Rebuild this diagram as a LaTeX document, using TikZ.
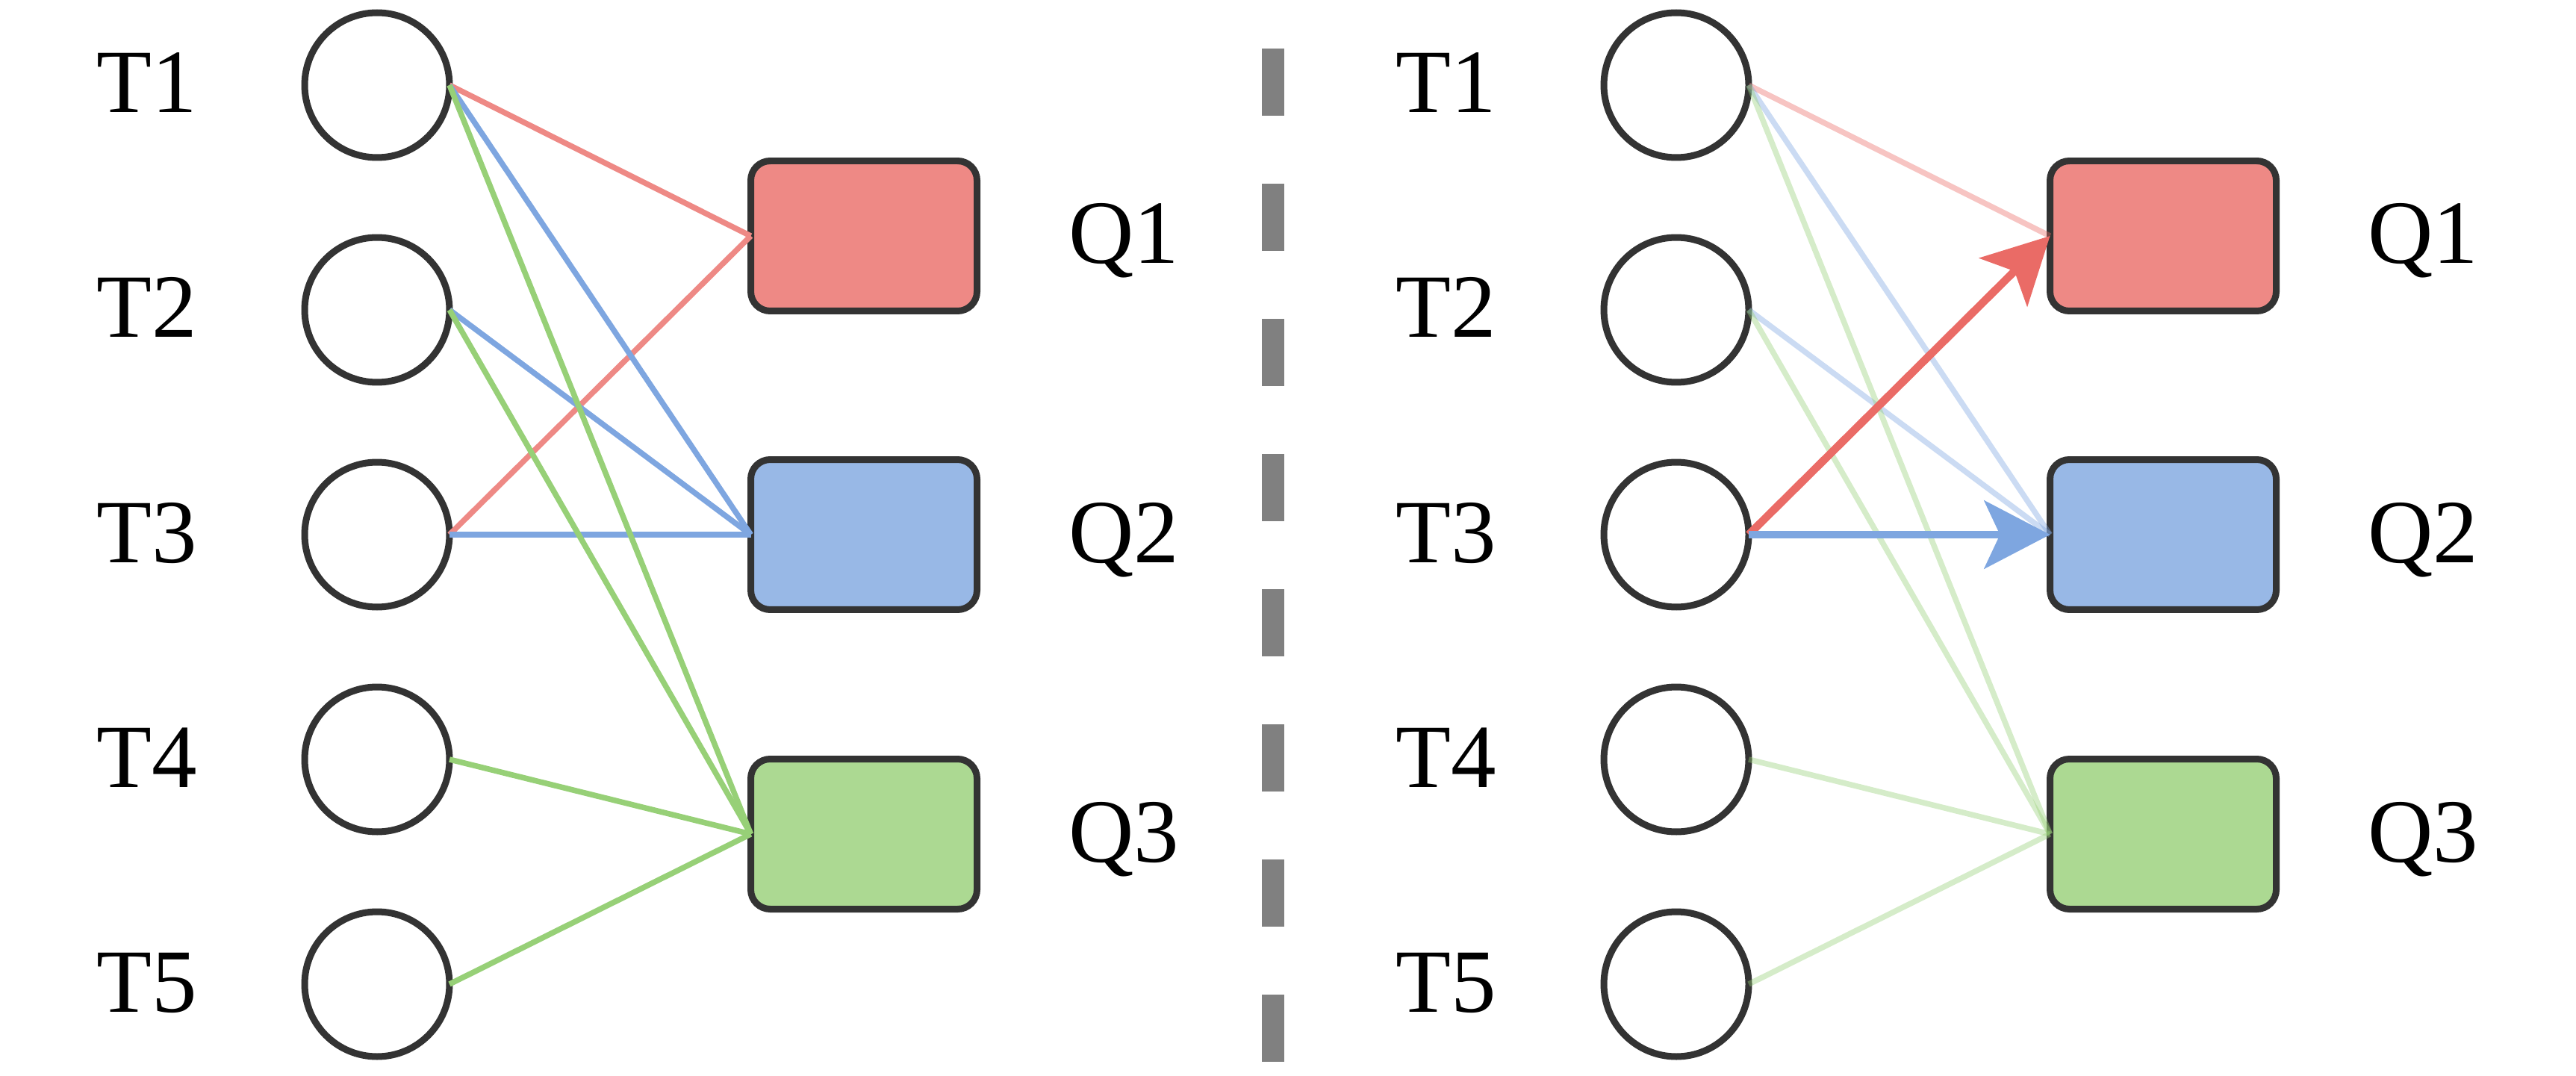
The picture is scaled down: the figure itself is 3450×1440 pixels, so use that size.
\documentclass[tikz,border=0pt]{standalone}
\usepackage{fontspec}
\setmainfont{Liberation Serif}
\usetikzlibrary{arrows.meta}
\definecolor{cred}{HTML}{EA6B66}
\definecolor{cblue}{HTML}{7EA6E0}
\definecolor{cgreen}{HTML}{97D077}
\definecolor{cstroke}{HTML}{333333}
\definecolor{cgray}{HTML}{808080}
\begin{document}
\begin{tikzpicture}[x=0.1pt,y=-0.1pt,
  tnode/.style={circle, draw=cstroke, line width=0.9pt, minimum size=19.4pt, inner sep=0pt, outer sep=0pt, fill=white},
  qbox/.style={rectangle, rounded corners=2.6pt, draw=cstroke, line width=0.9pt, minimum width=30.3pt, minimum height=20.1pt, inner sep=0pt, outer sep=0pt},
  lbl/.style={anchor=base, inner sep=0pt, font=\fontsize{12.1}{14}\selectfont},
  lnk/.style={line width=0.75pt},
  faded/.style={line width=0.75pt, draw opacity=0.4},
  hl/.style={line width=1.05pt, -{Stealth[length=8.8pt,width=9.1pt,inset=2.1pt]}},
]
\useasboundingbox (0,0) rectangle (3450,1440);
\foreach \p/\dx in {L/0,R/1740}{
  \foreach \i/\y in {1/114,2/415,3/716,4/1017,5/1318}{
    \node[tnode] (T\p\i) at (505+\dx,\y) {};
    \node[lbl] (tl\p\i) at (197+\dx,\y+37) {T\i};
  }
  \node[qbox, fill=cred!80] (Q\p1) at (1157+\dx,316) {};
  \node[qbox, fill=cblue!80] (Q\p2) at (1157+\dx,716) {};
  \node[qbox, fill=cgreen!80] (Q\p3) at (1157+\dx,1117) {};
  \node[lbl] (ql\p1) at (1505+\dx,353) {Q1};
  \node[lbl] (ql\p2) at (1505+\dx,753) {Q2};
  \node[lbl] (ql\p3) at (1505+\dx,1154) {Q3};
}
% left panel
\draw[lnk, cred!80] (TL1.east) -- (QL1.west);
\draw[lnk, cred!80] (TL3.east) -- (QL1.west);
\draw[lnk, cblue] (TL1.east) -- (QL2.west);
\draw[lnk, cblue] (TL2.east) -- (QL2.west);
\draw[lnk, cblue] (TL3.east) -- (QL2.west);
\draw[lnk, cgreen] (TL1.east) -- (QL3.west);
\draw[lnk, cgreen] (TL2.east) -- (QL3.west);
\draw[lnk, cgreen] (TL4.east) -- (QL3.west);
\draw[lnk, cgreen] (TL5.east) -- (QL3.west);
% right panel
\draw[faded, cred] (TR1.east) -- (QR1.west);
\draw[faded, cblue] (TR1.east) -- (QR2.west);
\draw[faded, cblue] (TR2.east) -- (QR2.west);
\draw[faded, cgreen] (TR1.east) -- (QR3.west);
\draw[faded, cgreen] (TR2.east) -- (QR3.west);
\draw[faded, cgreen] (TR4.east) -- (QR3.west);
\draw[faded, cgreen] (TR5.east) -- (QR3.west);
\draw[hl, cred, draw=cred] (TR3.east) -- (QR1.west);
\draw[hl, cblue, draw=cblue] (TR3.east) -- (QR2.west);
% divider
\draw[cgray, line width=3pt, dash pattern=on 9pt off 9.1pt] (1705,65) -- (1705,1422);
\end{tikzpicture}
\end{document}
